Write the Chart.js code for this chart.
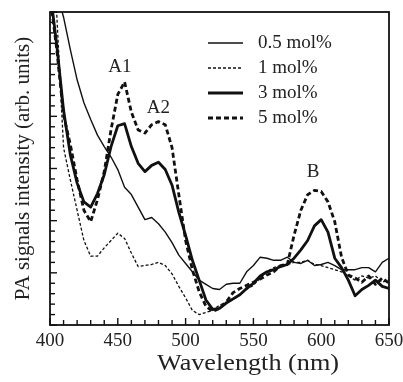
<!DOCTYPE html>
<html>
<head>
<meta charset="utf-8">
<script src="https://cdn.jsdelivr.net/npm/chart.js@4.4.1/dist/chart.umd.min.js"></script>
<style>
  html, body { margin: 0; padding: 0; background: #fff; }
  #wrap { width: 403px; height: 382px; }
</style>
</head>
<body>
<div id="wrap"><canvas id="paChart"></canvas></div>
<script>
// Wavelength grid (nm)
const wavelengths = [400, 405, 410, 415, 420, 425, 430, 435, 440, 445,
                     450, 455, 460, 465, 470, 475, 480, 485, 490, 495,
                     500, 505, 510, 515, 520, 525, 530, 535, 540, 545,
                     550, 555, 560, 565, 570, 575, 580, 585, 590, 595,
                     600, 605, 610, 615, 620, 625, 630, 635, 640, 645, 650];

// PA signal (arb. units)
const mol05 = [35, 31.9, 29.5, 26.4, 23.5, 21.3, 19.7, 18.2, 17.1, 16.1,
               14.9, 13.2, 12.5, 11.3, 10.1, 10.3, 9.7, 8.9, 7.9, 6.7,
               5.9, 5.1, 4.3, 3.9, 3.5, 3.4, 3.9, 4.0, 4.0, 5.1,
               5.7, 6.5, 6.4, 6.2, 6.2, 6.5, 6.0, 5.9, 6.2, 5.7,
               5.8, 6.0, 5.7, 5.3, 5.3, 5.3, 5.5, 5.5, 5.1, 6.0, 6.4];
const mol1 = [34, 29.7, 17.0, 13.9, 11.0, 8.1, 6.6, 6.6, 7.4, 8.1,
              8.8, 8.3, 6.9, 5.6, 5.7, 5.8, 6.0, 5.7, 4.9, 3.7,
              2.6, 1.4, 1.0, 1.2, 1.4, 1.9, 2.2, 2.4, 2.9, 3.4,
              3.8, 4.5, 5.1, 5.5, 5.7, 5.8, 6.0, 6.0, 6.2, 5.8,
              5.7, 5.5, 5.3, 5.1, 4.7, 4.3, 4.7, 4.5, 4.7, 4.1, 4.3];
const mol3 = [32.1, 26.8, 20.6, 16.3, 13.6, 11.8, 11.3, 12.6, 14.4, 17.1,
              19.1, 19.3, 17.1, 15.5, 14.7, 15.3, 15.6, 14.9, 13.4, 10.8,
              8.6, 6.2, 4.3, 2.4, 1.5, 1.6, 2.1, 2.5, 2.9, 3.5,
              4.0, 4.7, 5.1, 5.3, 5.6, 5.8, 6.4, 7.2, 8.1, 9.5,
              10.1, 8.9, 6.4, 5.5, 4.3, 2.8, 3.4, 3.8, 4.3, 3.7, 3.5];
const mol5 = [31.6, 26.4, 20.1, 17.3, 13.9, 11.0, 9.9, 12.0, 14.7, 18.7,
              22.1, 23.3, 20.4, 18.7, 18.4, 19.2, 19.5, 19.2, 17.0, 12.5,
              8.1, 5.3, 3.2, 1.8, 1.3, 1.6, 2.2, 3.1, 3.5, 3.8,
              4.1, 4.4, 4.8, 5.1, 5.7, 5.8, 8.6, 11.0, 12.5, 12.9,
              12.8, 11.8, 9.9, 6.5, 4.8, 4.5, 4.1, 4.7, 3.9, 4.5, 4.0];

const seriesLabels = ['0.5 mol%', '1 mol%', '3 mol%', '5 mol%'];
const xTickLabels = [400, 450, 500, 550, 600, 650];

// Peak annotations
const peakLabels = ['A1', 'A2', 'B'];
const peakX = [451.5, 480, 594];
const peakY = [24.7, 20.8, 14.7];

const serif = "'Liberation Serif', 'DejaVu Serif', serif";
const ink = '#111';

const toPoints = (ys) => wavelengths.map((w, i) => ({ x: w, y: ys[i] }));

// frame, inward ticks, legend, peak labels, x title
const decorPlugin = {
    id: 'decor',
    afterDatasetsDraw(chart) {
        const ctx = chart.ctx;
        const area = chart.chartArea;
        const xs = chart.scales.x;
        const ys = chart.scales.y;
        ctx.save();

        // box
        ctx.strokeStyle = ink;
        ctx.lineWidth = 1.8;
        ctx.setLineDash([]);
        ctx.strokeRect(area.left, area.top, area.right - area.left, area.bottom - area.top);

        // ticks pointing inwards
        ctx.lineWidth = 1.4;
        xs.ticks.forEach(t => {
            const px = xs.getPixelForValue(t.value);
            const len = t.value % 50 === 0 ? 7 : 5;
            ctx.beginPath();
            ctx.moveTo(px, area.bottom);
            ctx.lineTo(px, area.bottom - len);
            ctx.stroke();
        });
        ys.ticks.forEach(t => {
            const py = ys.getPixelForValue(t.value);
            const len = t.value % 5 === 0 ? 7 : 5;
            ctx.beginPath();
            ctx.moveTo(area.left, py);
            ctx.lineTo(area.left + len, py);
            ctx.stroke();
        });

        // legend
        ctx.font = '19px ' + serif;
        ctx.textBaseline = 'middle';
        ctx.textAlign = 'left';
        chart.data.datasets.forEach((ds, i) => {
            const y = area.top + 31 + i * 25;
            const x0 = area.right - 181;
            ctx.strokeStyle = ds.borderColor;
            ctx.lineWidth = ds.borderWidth;
            ctx.setLineDash(ds.borderDash || []);
            ctx.beginPath();
            ctx.moveTo(x0, y);
            ctx.lineTo(x0 + 35, y);
            ctx.stroke();
            ctx.setLineDash([]);
            ctx.fillStyle = '#222';
            ctx.fillText(ds.label, x0 + 50, y);
        });

        // peak labels
        ctx.font = '19px ' + serif;
        ctx.textAlign = 'center';
        peakLabels.forEach((lab, i) => {
            ctx.fillText(lab, xs.getPixelForValue(peakX[i]), ys.getPixelForValue(peakY[i]));
        });

        // x-axis title (sits right of centre in the original)
        ctx.font = '23px ' + serif;
        const title = 'Wavelength (nm)';
        const w = ctx.measureText(title).width;
        ctx.translate(248, 364);
        ctx.scale(182 / w, 1);
        ctx.fillText(title, 0, 0);
        ctx.restore();
    }
};

const ctx = document.getElementById('paChart').getContext('2d');
new Chart(ctx, {
    type: 'line',
    data: {
        datasets: [
            { label: seriesLabels[0], data: toPoints(mol05), borderColor: ink, borderWidth: 1.4 },
            { label: seriesLabels[1], data: toPoints(mol1), borderColor: ink, borderWidth: 1.3, borderDash: [3, 2] },
            { label: seriesLabels[2], data: toPoints(mol3), borderColor: ink, borderWidth: 2.8 },
            { label: seriesLabels[3], data: toPoints(mol5), borderColor: ink, borderWidth: 2.8, borderDash: [5, 3] }
        ]
    },
    options: {
        responsive: true,
        maintainAspectRatio: false,
        animation: false,
        layout: { padding: { top: 12, right: 14, left: 0, bottom: 0 } },
        elements: {
            point: { radius: 0 },
            line: { tension: 0, fill: false, borderJoinStyle: 'round' }
        },
        plugins: {
            legend: { display: false },
            tooltip: { enabled: false }
        },
        scales: {
            x: {
                type: 'linear',
                min: 400,
                max: 650,
                grid: { display: false, drawTicks: false },
                border: { display: false },
                ticks: {
                    stepSize: 10,
                    autoSkip: false,
                    maxRotation: 0,
                    padding: 5,
                    color: '#222',
                    font: { family: serif, size: 19 },
                    callback: (v) => xTickLabels.includes(v) ? String(v) : ''
                },
                afterFit: (s) => {
                    s.height = 57;
                    s.paddingLeft = 0;
                    s.paddingRight = 0;
                }
            },
            y: {
                min: 0,
                max: 30,
                grid: { display: false, drawTicks: false },
                border: { display: false },
                ticks: { stepSize: 1, display: false },
                title: {
                    display: true,
                    text: 'PA signals intensity (arb. units)',
                    color: '#222',
                    font: { family: serif, size: 21 },
                    padding: { top: 11, bottom: 0 }
                },
                afterFit: (s) => { s.width = 50; }
            }
        }
    },
    plugins: [decorPlugin]
});
</script>
</body>
</html>
